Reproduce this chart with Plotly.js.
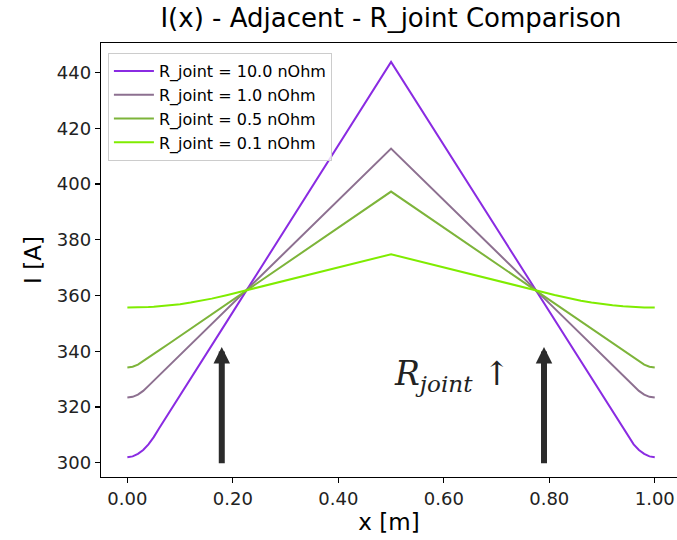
<!DOCTYPE html>
<html>
<head>
<meta charset="utf-8">
<script src="https://cdn.plot.ly/plotly-3.0.1.min.js"></script>
<style>html,body{margin:0;padding:0;overflow:hidden;background:#fff;}</style>
</head>
<body>
<div id="chart" style="width:677px;height:540px;"></div>
<script>
// Position along the conductor [m]
const xPos = [0, 0.01, 0.02, 0.03, 0.04, 0.05, 0.06, 0.08, 0.10, 0.12, 0.14, 0.16, 0.19, 0.5,
              0.81, 0.84, 0.86, 0.88, 0.90, 0.92, 0.94, 0.95, 0.96, 0.97, 0.98, 0.99, 1.0];

const seriesNames = ["R_joint = 10.0 nOhm", "R_joint = 1.0 nOhm", "R_joint = 0.5 nOhm", "R_joint = 0.1 nOhm"];
const seriesColors = ["#8a2be2", "#8d7090", "#7db43a", "#7fec00"];

const current_R10 = [302.0, 302.3, 303.2, 304.6, 306.6, 309.2, 312.3, 318.3, 324.3, 330.2, 336.2, 342.2, 351.1, 443.8,
                     351.1, 342.2, 336.2, 330.2, 324.3, 318.3, 312.3, 309.2, 306.6, 304.6, 303.2, 302.3, 302.0];
const current_R1 = [323.4, 323.65, 324.45, 325.8, 327.6, 329.45, 331.3, 335.0, 338.7, 342.4, 346.1, 349.8, 355.4, 412.7,
                    355.4, 349.8, 346.1, 342.4, 338.7, 335.0, 331.3, 329.45, 327.6, 325.8, 324.45, 323.65, 323.4];
const current_R05 = [334.2, 334.45, 335.2, 336.4, 337.7, 339.0, 340.3, 342.9, 345.5, 348.1, 350.7, 353.3, 357.2, 397.3,
                     357.2, 353.3, 350.7, 348.1, 345.5, 342.9, 340.3, 339.0, 337.7, 336.4, 335.2, 334.45, 334.2];
const current_R01 = [355.7, 355.7, 355.75, 355.8, 355.9, 356.0, 356.15, 356.5, 356.9, 357.5, 358.1, 358.9, 360.2, 374.8,
                     360.2, 358.9, 358.1, 357.5, 356.9, 356.5, 356.15, 356.0, 355.9, 355.8, 355.75, 355.7, 355.7];
const seriesValues = [current_R10, current_R1, current_R05, current_R01];

const xTicks = [0, 0.2, 0.4, 0.6, 0.8, 1.0];
const yTicks = [300, 320, 340, 360, 380, 400, 420, 440];

// Annotation arrows: x positions, tail y, tip y
const arrowX = [0.179, 0.79];
const arrowTailY = 299.3;
const arrowTipY = 341.5;

const traces = seriesValues.map((vals, i) => ({
  type: "scatter", mode: "lines",
  x: xPos, y: vals, name: seriesNames[i],
  line: {color: seriesColors[i], width: 2}
}));

const font = "DejaVu Sans, sans-serif";

const annotations = arrowX.map(ax => ({
  x: ax, y: arrowTipY, ax: ax, ay: arrowTailY,
  xref: "x", yref: "y", axref: "x", ayref: "y",
  showarrow: true, arrowhead: 2, arrowsize: 0.55, arrowwidth: 6,
  arrowcolor: "#2b2b2b", text: ""
}));
annotations.push({
  x: 0.5013, y: 331.3, xref: "x", yref: "y", xanchor: "left", yanchor: "middle", showarrow: false,
  text: "<i>R<sub>joint</sub></i> ↑",
  font: {family: "DejaVu Serif, serif", size: 33, color: "#222"}
});

const layout = {
  width: 677, height: 540,
  margin: {l: 101, r: 0, t: 43, b: 63},
  paper_bgcolor: "#fff", plot_bgcolor: "#fff",
  font: {family: font, color: "#000"},
  title: {text: "I(x) - Adjacent - R_joint Comparison", font: {family: font, size: 26, color: "#000"},
          xref: "container", x: 0.5776, xanchor: "center", yref: "container", y: 0.966, yanchor: "middle"},
  showlegend: true,
  legend: {x: 0.012, y: 0.977, xanchor: "left", yanchor: "top", itemwidth: 40,
           bgcolor: "rgba(255,255,255,0.8)", bordercolor: "#cccccc", borderwidth: 1,
           font: {family: font, size: 16, color: "#000"}},
  xaxis: {range: [-0.05, 1.0422], tickvals: xTicks, ticktext: xTicks.map(v => v.toFixed(2)),
          showgrid: false, zeroline: false, showline: true, linecolor: "#000", linewidth: 1.3, mirror: true,
          ticks: "outside", ticklen: 5, tickwidth: 1.2, tickcolor: "#000",
          tickfont: {family: font, size: 18, color: "#222"},
          title: {text: "x [m]", font: {family: font, size: 23, color: "#000"}, standoff: 4}},
  yaxis: {range: [294.9, 450.6], tickvals: yTicks, ticktext: yTicks.map(String),
          showgrid: false, zeroline: false, showline: true, linecolor: "#000", linewidth: 1.3,
          ticks: "outside", ticklen: 5, tickwidth: 1.2, tickcolor: "#000",
          tickfont: {family: font, size: 18, color: "#222"},
          title: {text: "I [A]", font: {family: font, size: 23, color: "#000"}, standoff: 8}},
  annotations: annotations
};

Plotly.newPlot("chart", traces, layout, {staticPlot: true, displayModeBar: false});
</script>
</body>
</html>
